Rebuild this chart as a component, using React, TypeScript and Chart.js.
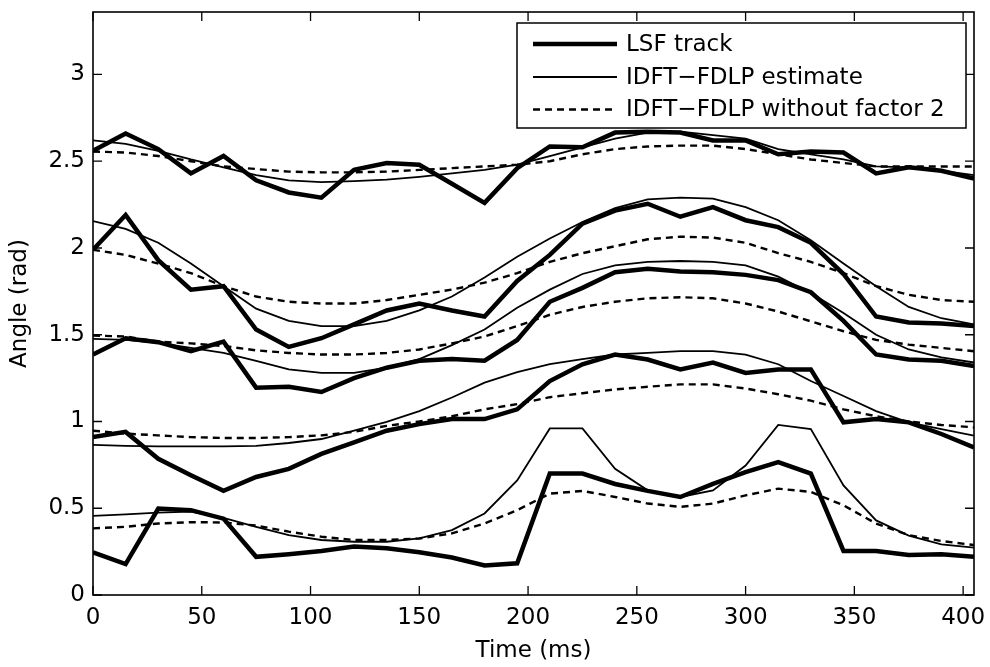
import React, { useEffect, useRef } from "react";
import { Chart, registerables } from "chart.js";

Chart.register(...registerables);

// Time axis (ms), one frame every 15 ms
const times = [0, 15, 30, 45, 60, 75, 90, 105, 120, 135, 150, 165, 180, 195, 210, 225, 240, 255, 270, 285, 300, 315, 330, 345, 360, 375, 390, 405];

// LSF tracks (thick)
const lsf1 = [2.56, 2.66, 2.57, 2.43, 2.53, 2.39, 2.32, 2.29, 2.45, 2.49, 2.48, 2.37, 2.26, 2.46, 2.585, 2.58, 2.665, 2.67, 2.665, 2.62, 2.62, 2.54, 2.556, 2.55, 2.43, 2.465, 2.445, 2.40];
const lsf2 = [1.99, 2.19, 1.93, 1.76, 1.78, 1.53, 1.43, 1.48, 1.56, 1.64, 1.68, 1.64, 1.605, 1.81, 1.96, 2.14, 2.215, 2.255, 2.18, 2.235, 2.16, 2.12, 2.03, 1.85, 1.605, 1.57, 1.565, 1.55];
const lsf3 = [1.386, 1.48, 1.457, 1.405, 1.46, 1.195, 1.2, 1.17, 1.25, 1.31, 1.35, 1.36, 1.35, 1.47, 1.69, 1.77, 1.86, 1.88, 1.865, 1.86, 1.845, 1.815, 1.745, 1.58, 1.386, 1.357, 1.35, 1.32];
const lsf4 = [0.91, 0.94, 0.785, 0.69, 0.6, 0.68, 0.727, 0.813, 0.88, 0.947, 0.985, 1.014, 1.014, 1.07, 1.233, 1.33, 1.386, 1.357, 1.3, 1.34, 1.28, 1.3, 1.3, 0.995, 1.014, 0.995, 0.928, 0.85];
const lsf5 = [0.246, 0.178, 0.498, 0.489, 0.44, 0.22, 0.235, 0.254, 0.279, 0.27, 0.246, 0.216, 0.17, 0.183, 0.7, 0.7, 0.64, 0.6, 0.565, 0.64, 0.708, 0.766, 0.7, 0.254, 0.254, 0.231, 0.235, 0.22];

// IDFT-FDLP estimates (thin)
const est1 = [2.62, 2.6, 2.56, 2.51, 2.465, 2.42, 2.39, 2.38, 2.385, 2.394, 2.41, 2.43, 2.45, 2.48, 2.53, 2.58, 2.63, 2.665, 2.67, 2.65, 2.63, 2.57, 2.54, 2.51, 2.47, 2.465, 2.445, 2.42];
const est2 = [2.155, 2.11, 2.03, 1.91, 1.78, 1.65, 1.58, 1.55, 1.55, 1.58, 1.64, 1.72, 1.83, 1.95, 2.055, 2.15, 2.23, 2.28, 2.29, 2.285, 2.235, 2.16, 2.045, 1.91, 1.78, 1.66, 1.595, 1.56];
const est3 = [1.476, 1.47, 1.453, 1.424, 1.395, 1.35, 1.3, 1.28, 1.28, 1.31, 1.36, 1.44, 1.53, 1.655, 1.76, 1.85, 1.9, 1.92, 1.925, 1.92, 1.9, 1.835, 1.74, 1.625, 1.5, 1.415, 1.37, 1.34];
const est4 = [0.865, 0.86, 0.857, 0.857, 0.857, 0.86, 0.876, 0.899, 0.947, 0.998, 1.06, 1.138, 1.224, 1.285, 1.33, 1.36, 1.386, 1.395, 1.405, 1.405, 1.386, 1.33, 1.233, 1.147, 1.06, 0.995, 0.956, 0.918];
const est5 = [0.456, 0.465, 0.475, 0.48, 0.445, 0.393, 0.345, 0.317, 0.307, 0.307, 0.326, 0.374, 0.47, 0.66, 0.96, 0.96, 0.727, 0.603, 0.565, 0.603, 0.746, 0.98, 0.956, 0.632, 0.43, 0.342, 0.292, 0.273];

// IDFT-FDLP without factor 2 (dashed)
const nof1 = [2.556, 2.55, 2.53, 2.5, 2.47, 2.455, 2.44, 2.436, 2.436, 2.44, 2.45, 2.46, 2.47, 2.48, 2.5, 2.54, 2.57, 2.585, 2.59, 2.59, 2.57, 2.54, 2.51, 2.49, 2.47, 2.47, 2.47, 2.47];
const nof2 = [1.99, 1.96, 1.91, 1.855, 1.78, 1.72, 1.69, 1.68, 1.68, 1.7, 1.73, 1.76, 1.8, 1.855, 1.92, 1.97, 2.01, 2.05, 2.065, 2.06, 2.03, 1.97, 1.92, 1.855, 1.78, 1.73, 1.7, 1.69];
const nof3 = [1.495, 1.49, 1.46, 1.45, 1.435, 1.41, 1.395, 1.386, 1.386, 1.395, 1.415, 1.45, 1.49, 1.55, 1.615, 1.66, 1.69, 1.71, 1.716, 1.71, 1.68, 1.634, 1.577, 1.52, 1.47, 1.443, 1.424, 1.405];
const nof4 = [0.947, 0.93, 0.92, 0.91, 0.905, 0.905, 0.91, 0.92, 0.94, 0.975, 1.0, 1.03, 1.07, 1.1, 1.14, 1.163, 1.185, 1.2, 1.214, 1.214, 1.19, 1.157, 1.12, 1.07, 1.03, 1.0, 0.98, 0.966];
const nof5 = [0.384, 0.393, 0.412, 0.42, 0.418, 0.4, 0.365, 0.336, 0.317, 0.317, 0.326, 0.355, 0.412, 0.489, 0.584, 0.6, 0.565, 0.527, 0.508, 0.527, 0.574, 0.613, 0.594, 0.517, 0.412, 0.345, 0.311, 0.288];

// Axis ticks and texts
const xTicks = [0, 50, 100, 150, 200, 250, 300, 350, 400];
const yTicks = [0, 0.5, 1, 1.5, 2, 2.5, 3];
const xMin = 0;
const xMax = 405;
const yMin = 0;
const yMax = 3.36;
const xTitle = "Time (ms)";
const yTitle = "Angle (rad)";
const legendLabels = ["LSF track", "IDFT\u2212FDLP estimate", "IDFT\u2212FDLP without factor 2"];

const FONT = "'DejaVu Sans', sans-serif";
const FS = 23;

type Style = { width: number; dash: number[] };
const styles: Style[] = [
  { width: 4.5, dash: [] },
  { width: 1.8, dash: [] },
  { width: 2.4, dash: [7, 5] },
];

const groups = [
  [lsf1, lsf2, lsf3, lsf4, lsf5],
  [est1, est2, est3, est4, est5],
  [nof1, nof2, nof3, nof4, nof5],
];

const boxPlugin = {
  id: "matlabBox",
  afterDatasetsDraw(chart: any) {
    const { ctx, chartArea: a, scales } = chart;
    ctx.save();
    ctx.strokeStyle = "#000";
    ctx.lineWidth = 1.6;
    ctx.setLineDash([]);
    ctx.strokeRect(a.left, a.top, a.right - a.left, a.bottom - a.top);
    const L = 9;
    ctx.beginPath();
    for (const v of xTicks) {
      const px = scales.x.getPixelForValue(v);
      ctx.moveTo(px, a.bottom);
      ctx.lineTo(px, a.bottom - L);
      ctx.moveTo(px, a.top);
      ctx.lineTo(px, a.top + L);
    }
    for (const v of yTicks) {
      const py = scales.y.getPixelForValue(v);
      ctx.moveTo(a.left, py);
      ctx.lineTo(a.left + L, py);
      ctx.moveTo(a.right, py);
      ctx.lineTo(a.right - L, py);
    }
    ctx.lineWidth = 1.3;
    ctx.stroke();
    ctx.restore();
  },
  afterDraw(chart: any) {
    const { ctx, chartArea: a } = chart;
    const bx = 517;
    const by = 23;
    const bw = a.right - 8 - bx;
    const bh = 105;
    ctx.save();
    ctx.fillStyle = "#fff";
    ctx.fillRect(bx, by, bw, bh);
    ctx.strokeStyle = "#000";
    ctx.lineWidth = 1.5;
    ctx.strokeRect(bx, by, bw, bh);
    const rows = [44, 77, 109.5];
    ctx.font = `${FS}px ${FONT}`;
    ctx.textBaseline = "middle";
    ctx.textAlign = "left";
    ctx.fillStyle = "#000";
    legendLabels.forEach((lab, i) => {
      const s = styles[i];
      ctx.beginPath();
      ctx.lineWidth = s.width;
      ctx.setLineDash(s.dash);
      ctx.moveTo(533, rows[i]);
      ctx.lineTo(617, rows[i]);
      ctx.stroke();
      ctx.setLineDash([]);
      ctx.fillText(lab, 626, rows[i] + 1);
    });
    ctx.restore();
  },
};

export default function App() {
  const ref = useRef<HTMLCanvasElement | null>(null);
  useEffect(() => {
    if (!ref.current) return;
    const datasets: any[] = [];
    groups.forEach((g, gi) => {
      g.forEach((arr, k) => {
        datasets.push({
          label: `${legendLabels[gi]} ${k + 1}`,
          data: times.map((t, i) => ({ x: t, y: arr[i] })),
          borderColor: "#000",
          backgroundColor: "#000",
          borderWidth: styles[gi].width,
          borderDash: styles[gi].dash,
          pointRadius: 0,
          tension: 0,
          fill: false,
          borderJoinStyle: "miter",
        });
      });
    });
    const chart = new Chart(ref.current, {
      type: "line",
      data: { datasets },
      plugins: [boxPlugin],
      options: {
        animation: false,
        responsive: false,
        maintainAspectRatio: false,
        layout: { padding: { left: 0, top: 12, right: 16, bottom: 0 } },
        plugins: { legend: { display: false }, tooltip: { enabled: false } },
        scales: {
          x: {
            type: "linear",
            min: xMin,
            max: xMax,
            afterBuildTicks: (s: any) => {
              s.ticks = xTicks.map((v) => ({ value: v }));
            },
            afterFit: (s: any) => {
              s.height = 72;
              s.paddingLeft = 0;
              s.paddingRight = 0;
            },
            grid: { display: false, drawTicks: false },
            border: { display: false },
            ticks: {
              padding: 9,
              color: "#000",
              font: { family: FONT, size: FS },
              maxRotation: 0,
              autoSkip: false,
              callback: (v: any) => String(v),
            },
            title: {
              display: true,
              text: xTitle,
              color: "#000",
              font: { family: FONT, size: FS },
              padding: { top: 0, bottom: 2 },
            },
          },
          y: {
            type: "linear",
            min: yMin,
            max: yMax,
            afterBuildTicks: (s: any) => {
              s.ticks = yTicks.map((v) => ({ value: v }));
            },
            afterFit: (s: any) => {
              s.width = 93;
              s.paddingTop = 0;
              s.paddingBottom = 0;
            },
            grid: { display: false, drawTicks: false },
            border: { display: false },
            ticks: {
              padding: 8,
              color: "#000",
              font: { family: FONT, size: FS },
              autoSkip: false,
              callback: (v: any) => String(v),
            },
            title: {
              display: true,
              text: yTitle,
              color: "#000",
              font: { family: FONT, size: FS },
              padding: { top: 6, bottom: 0 },
            },
          },
        },
      } as any,
    });
    return () => chart.destroy();
  }, []);
  return (
    <div style={{ position: "absolute", left: 0, top: 0, width: 990, height: 667, background: "#fff" }}>
      <canvas ref={ref} width={990} height={667} style={{ width: 990, height: 667, display: "block" }} />
    </div>
  );
}
